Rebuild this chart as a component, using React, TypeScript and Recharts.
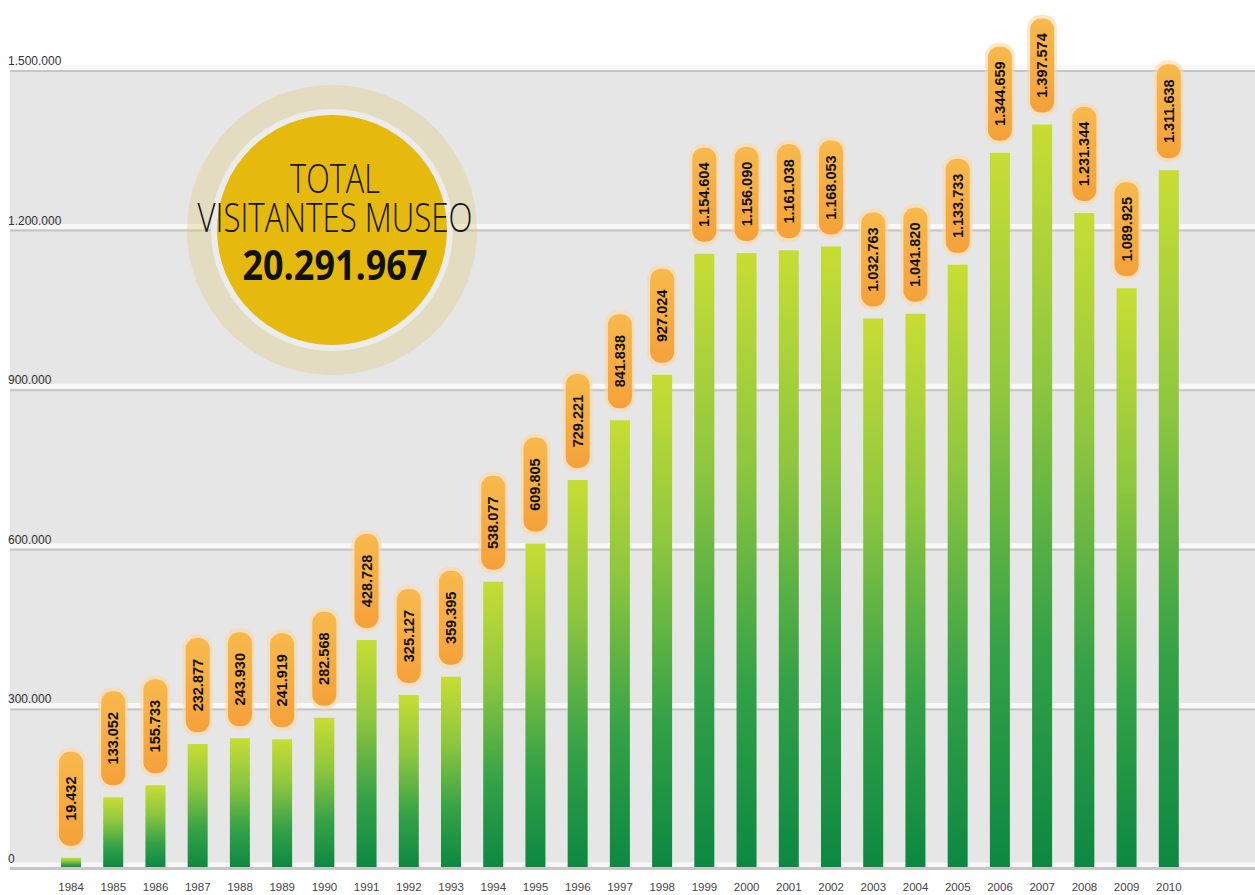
import { BarChart, Bar, XAxis, YAxis, CartesianGrid, LabelList } from "recharts";

const years = [
  "1984", "1985", "1986", "1987", "1988", "1989", "1990", "1991", "1992",
  "1993", "1994", "1995", "1996", "1997", "1998", "1999", "2000", "2001",
  "2002", "2003", "2004", "2005", "2006", "2007", "2008", "2009", "2010",
];
const visitors = [
  19432, 133052, 155733, 232877, 243930, 241919, 282568, 428728, 325127,
  359395, 538077, 609805, 729221, 841838, 927024, 1154604, 1156090, 1161038,
  1168053, 1032763, 1041820, 1133733, 1344659, 1397574, 1231344, 1089925, 1311638,
];
const yTicks = [0, 300000, 600000, 900000, 1200000, 1500000];
const badgeLines = ["TOTAL", "VISITANTES MUSEO"];
const totalVisitors = 20291967;

const data = years.map((year, i) => ({ year, visitors: visitors[i] }));

// miles con punto, como en el original
const fmt = (n: number) => String(n).replace(/\B(?=(\d{3})+(?!\d))/g, ".");

function YTick({ y, payload }: any) {
  return (
    <text x={8} y={y - 5} fontSize={12} fill="#333" fontFamily="Liberation Sans, Arial, sans-serif">
      {fmt(payload.value)}
    </text>
  );
}

function GridLine(p: any) {
  return (
    <g key={p.key}>
      <line x1={p.x1} x2={p.x2} y1={p.y1 - 3} y2={p.y1 - 3} stroke="#f8f8f8" strokeWidth={5} />
      <line x1={p.x1} x2={p.x2} y1={p.y1 + 1} y2={p.y1 + 1} stroke="#c6c6c6" strokeWidth={2} />
    </g>
  );
}

function ValueTag(props: any) {
  const { x, y, width, value } = props;
  const cx = x + width / 2;
  const h = 94;
  const w = 24;
  const top = y - 12 - h;
  const cy = top + h / 2;
  return (
    <g>
      <rect x={cx - w / 2 - 3} y={top - 4} width={w + 6} height={h + 8} rx={14} fill="#fcd8a8" opacity={0.6} />
      <rect x={cx - w / 2} y={top} width={w} height={h} rx={11} fill="url(#tagFill)" />
      <text
        x={cx}
        y={cy}
        transform={`rotate(-90 ${cx} ${cy})`}
        textAnchor="middle"
        dominantBaseline="central"
        fontSize={14.5}
        fontWeight="bold"
        fill="#111"
        fontFamily="Liberation Sans, Arial, sans-serif"
      >
        {fmt(value)}
      </text>
    </g>
  );
}

function TotalBadge() {
  return (
    <svg width={1255} height={895} style={{ position: "absolute", left: 0, top: 0, pointerEvents: "none" }}>
      <circle cx={332} cy={230} r={145} fill="rgba(222, 200, 120, 0.35)" />
      <circle cx={332} cy={230} r={121} fill="#ececec" />
      <circle cx={332} cy={230} r={115} fill="#e6b90f" />
      <text x={335} y={193} textAnchor="middle" fontSize={40} fontWeight={300} fill="#161616"
        fontFamily="Open Sans, Liberation Sans, sans-serif" textLength={90} lengthAdjust="spacingAndGlyphs">
        {badgeLines[0]}
      </text>
      <text x={335} y={232} textAnchor="middle" fontSize={40} fontWeight={300} fill="#161616"
        fontFamily="Open Sans, Liberation Sans, sans-serif" textLength={275} lengthAdjust="spacingAndGlyphs">
        {badgeLines[1]}
      </text>
      <text x={335} y={280} textAnchor="middle" fontSize={41} fontWeight="bold" fill="#111"
        fontFamily="Open Sans, Liberation Sans, sans-serif" textLength={185} lengthAdjust="spacingAndGlyphs">
        {fmt(totalVisitors)}
      </text>
    </svg>
  );
}

export default function App() {
  return (
    <div style={{ position: "absolute", left: 0, top: 0, width: 1255, height: 895, background: "#fff" }}>
      <BarChart width={1255} height={895} data={data} margin={{ top: 70, right: 0, bottom: 0, left: 0 }}>
        <defs>
          <linearGradient id="barFill" x1="0" y1="0" x2="0" y2="1">
            <stop offset="0%" stopColor="#c8dd34" />
            <stop offset="35%" stopColor="#8dc63f" />
            <stop offset="70%" stopColor="#34a147" />
            <stop offset="100%" stopColor="#0c8842" />
          </linearGradient>
          <linearGradient id="tagFill" x1="0" y1="0" x2="0" y2="1">
            <stop offset="0%" stopColor="#f8b94c" />
            <stop offset="100%" stopColor="#f5a13a" />
          </linearGradient>
        </defs>
        <CartesianGrid vertical={false} fill="#e6e6e6" horizontal={GridLine} />
        <XAxis
          dataKey="year"
          padding={{ left: 40, right: 65 }}
          axisLine={{ stroke: "#c6c6c6", strokeWidth: 2 }}
          tickLine={false}
          tickMargin={9}
          height={27}
          interval={0}
          tick={{ fontSize: 11.5, fill: "#444", fontFamily: "Liberation Sans, Arial, sans-serif" }}
        />
        <YAxis
          width={10}
          domain={[0, 1500000]}
          ticks={yTicks}
          axisLine={false}
          tickLine={false}
          tick={YTick}
          allowDataOverflow
        />
        <Bar dataKey="visitors" fill="url(#barFill)" barSize={20} isAnimationActive={false}>
          <LabelList dataKey="visitors" content={ValueTag} />
        </Bar>
      </BarChart>
      <TotalBadge />
    </div>
  );
}
